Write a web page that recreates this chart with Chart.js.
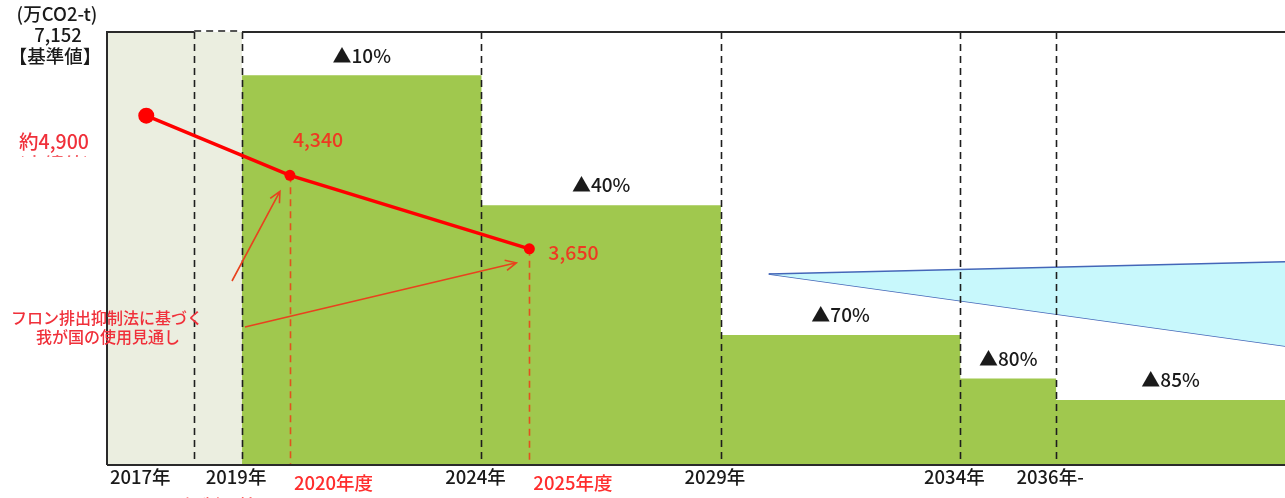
<!DOCTYPE html>
<html>
<head>
<meta charset="utf-8">
<script src="https://cdn.jsdelivr.net/npm/chart.js@4/dist/chart.umd.min.js"></script>
<style>
    html, body { margin: 0; background: #fff; }
    #wrap { width: 1285px; height: 498px; position: relative; }
</style>
</head>
<body>
<div id="wrap"><canvas id="chart"></canvas></div>
<script>

// DATA BEGIN

const baseValue = 7152;                          // 基準値 (万CO2-t)
const baseYears = [2016, 2019];                  // 基準値ブロック
const markYears = [2018];                        // 規制開始前の区切り
const stepYears = [2019, 2024, 2029, 2034, 2036];
const stepEnd = 2041;
const cutPercent = [10, 40, 70, 80, 85];         // 削減率 ▲%

const usageYears = [2017, 2020, 2025];
const usageValues = [4900, 4340, 3650];
const usageLabels = ['約4,900', '4,340', '3,650'];
const fiscalLabels = ['', '2020年度', '2025年度'];

const wedgeYears = [2030, 2041];
const wedgeUpper = [3155, 3360];
const wedgeLower = [3155, 1940];

const yearTicks = [2017, 2019, 2024, 2029, 2034, 2036];
const yearLabels = ['2017年', '2019年', '2024年', '2029年', '2034年', '2036年-'];

// DATA END

const JP = '"Noto Sans CJK JP", "Noto Sans", sans-serif';

function font(size)
{
    return '500 ' + size + 'px ' + JP;
}

let stepPoints = stepYears.map(function (yr, i)
{
    return {x: yr, y: baseValue * (100 - cutPercent[i]) / 100};
});
stepPoints.push({x: stepEnd, y: stepPoints[stepPoints.length - 1].y});

function pairs(xs, ys)
{
    return xs.map(function (v, i) { return {x: v, y: ys[i]}; });
}

function arrow(c, x1, y1, x2, y2)
{
    let a = Math.atan2(y2 - y1, x2 - x1);
    let h = 12;
    c.beginPath();
    c.moveTo(x1, y1);
    c.lineTo(x2, y2);
    c.moveTo(x2 - h * Math.cos(a - 0.45), y2 - h * Math.sin(a - 0.45));
    c.lineTo(x2, y2);
    c.lineTo(x2 - h * Math.cos(a + 0.45), y2 - h * Math.sin(a + 0.45));
    c.stroke();
}

// OVERLAY PLUGIN BEGIN

const overlay = {
    id: 'overlay',

    // guides and frame go above the green steps but under the red line
    afterDatasetDraw: function (chart, args)
    {
        if (args.index !== 1)
            return;

        let c = chart.ctx, x = chart.scales.x, y2 = chart.scales.y2, area = chart.chartArea;
        c.save();

        c.strokeStyle = '#1e1e1e';
        c.lineWidth = 1.6;
        c.setLineDash([7, 5]);
        markYears.concat(stepYears).forEach(function (yr)
        {
            let px = Math.round(x.getPixelForValue(yr)) + 0.5;
            c.beginPath();
            c.moveTo(px, area.top);
            c.lineTo(px, area.bottom);
            c.stroke();
        });

        c.beginPath();
        c.moveTo(x.getPixelForValue(markYears[0]), area.top - 1);
        c.lineTo(x.getPixelForValue(stepYears[0]), area.top - 1);
        c.stroke();

        c.strokeStyle = '#e2521e';
        for (let i = 1; i < usageYears.length; i++)
        {
            let px = Math.round(x.getPixelForValue(usageYears[i])) + 0.5;
            c.beginPath();
            c.moveTo(px, y2.getPixelForValue(usageValues[i]));
            c.lineTo(px, area.bottom);
            c.stroke();
        }

        c.setLineDash([]);
        c.strokeStyle = '#2a2a2a';
        c.lineWidth = 2;
        c.beginPath();
        c.moveTo(area.left, area.bottom);
        c.lineTo(area.left, area.top);
        c.lineTo(x.getPixelForValue(markYears[0]), area.top);
        c.moveTo(x.getPixelForValue(stepYears[0]), area.top);
        c.lineTo(area.right, area.top);
        c.moveTo(area.left, area.bottom);
        c.lineTo(area.right, area.bottom);
        c.stroke();

        c.restore();
    },

    afterDraw: function (chart)
    {
        let c = chart.ctx, x = chart.scales.x, y = chart.scales.y, y2 = chart.scales.y2, area = chart.chartArea;
        c.save();
        c.textBaseline = 'middle';
        c.textAlign = 'center';

        // unit and base value
        c.fillStyle = '#1a1a1a';
        c.font = font(18.5);
        c.fillText('(万CO2-t)', area.left - 50, area.top - 18);
        c.fillText(baseValue.toLocaleString('en-US'), area.left - 49, y.getPixelForValue(baseValue) + 3);
        c.fillText('【基準値】', area.left - 52, area.top + 24);

        // reduction labels above each step
        c.font = font(19);
        stepYears.forEach(function (yr, i)
        {
            let end = Math.min(i + 1 < stepYears.length ? stepYears[i + 1] : stepEnd, x.max);
            let mid = (x.getPixelForValue(yr) + x.getPixelForValue(end)) / 2;
            c.fillText('▲' + cutPercent[i] + '%', mid, y.getPixelForValue(stepPoints[i].y) - 20);
        });

        // year labels
        c.font = font(18.5);
        yearTicks.forEach(function (yr, i)
        {
            c.fillText(yearLabels[i], x.getPixelForValue(yr) - 6, area.bottom + 12);
        });

        // usage values
        c.font = font(19.5);
        c.fillStyle = '#ee3a22';
        let p = usageYears.map(function (yr, i)
        {
            return {x: x.getPixelForValue(yr), y: y2.getPixelForValue(usageValues[i])};
        });
        c.textAlign = 'left';
        c.fillText(usageLabels[1], p[1].x + 3, p[1].y - 36);
        c.fillText(usageLabels[2], p[2].x + 19, p[2].y + 4);

        c.fillStyle = '#f0303a';
        c.textAlign = 'center';
        c.fillText(usageLabels[0], area.left - 53, p[0].y + 26);
        c.save();
        c.beginPath();
        c.rect(0, p[0].y + 37, area.left, 4);
        c.clip();
        c.fillText('(実績値)', area.left - 53, p[0].y + 49);
        c.restore();

        c.font = font(18.5);
        c.fillStyle = '#ff2d2d';
        c.textAlign = 'left';
        for (let i = 1; i < usageYears.length; i++)
            c.fillText(fiscalLabels[i], p[i].x + 4, area.bottom + 18);
        c.textAlign = 'center';
        c.fillText('(規制開始)', x.getPixelForValue(yearTicks[1]) - 22, area.bottom + 41);

        // note with arrows to the projected points
        let nx = area.left, ny = area.top + 286;
        c.fillStyle = '#f0303a';
        c.font = font(16);
        c.fillText('フロン排出抑制法に基づく', nx, ny);
        c.fillText('我が国の使用見通し', nx + 1, ny + 19);

        c.strokeStyle = '#e8421e';
        c.lineWidth = 1.6;
        arrow(c, nx + 125, ny - 37, p[1].x - 10, p[1].y + 16);
        arrow(c, nx + 138, ny + 9, p[2].x - 13, p[2].y + 14);

        c.restore();
    }
};

// OVERLAY PLUGIN END

// CHART BEGIN

new Chart(document.getElementById('chart').getContext('2d'),
{
    type: 'line',
    data: {
        datasets: [
        {
            label: 'usage',
            data: pairs(usageYears, usageValues),
            yAxisID: 'y2',
            borderColor: '#ff0000',
            borderWidth: 3.5,
            pointRadius: [8, 5.5, 5.5],
            pointBackgroundColor: '#ff0000',
            pointBorderWidth: 0,
            fill: false,
            order: 0
        },
        {
            label: 'wedge-upper',
            data: pairs(wedgeYears, wedgeUpper),
            borderColor: '#4466b8',
            borderWidth: 1.5,
            backgroundColor: '#c8f8fc',
            pointRadius: 0,
            fill: '+1',
            order: 1
        },
        {
            label: 'wedge-lower',
            data: pairs(wedgeYears, wedgeLower),
            borderColor: '#4466b8',
            borderWidth: 1.5,
            pointRadius: 0,
            fill: false,
            order: 2
        },
        {
            label: 'steps',
            data: stepPoints,
            stepped: 'before',
            borderColor: 'rgba(0,0,0,0)',
            borderWidth: 0,
            backgroundColor: '#a0c84e',
            pointRadius: 0,
            fill: 'origin',
            order: 3
        },
        {
            label: 'base',
            data: pairs(baseYears, baseYears.map(function () { return baseValue; })),
            borderColor: 'rgba(0,0,0,0)',
            borderWidth: 0,
            backgroundColor: '#ebeee0',
            pointRadius: 0,
            fill: 'origin',
            order: 4
        }]
    },
    options: {
        responsive: true,
        maintainAspectRatio: false,
        animation: false,
        layout: {autoPadding: false, padding: {left: 107, top: 32, right: 0, bottom: 33}},
        plugins: {
            legend: {display: false},
            tooltip: {enabled: false}
        },
        scales: {
            x: {type: 'linear', min: 2016.18, max: 2040.78, display: false},
            y: {min: 0, max: baseValue, display: false},
            y2: {min: 1620, max: 5686, display: false}
        }
    },
    plugins: [overlay]
});

// CHART END

</script>
</body>
</html>
